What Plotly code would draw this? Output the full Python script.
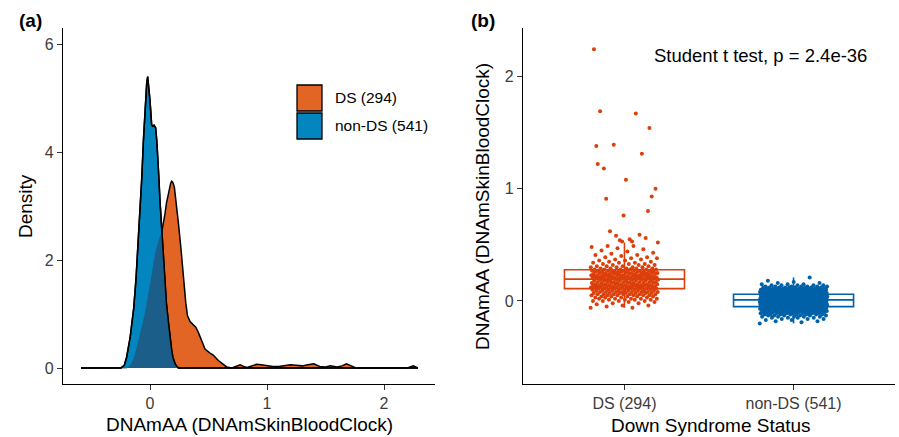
import numpy as np
import plotly.graph_objects as go

# ---------------- data ----------------
# Panel (a): density curves
dens_x = [-0.59, -0.25, -0.22, -0.20, -0.17, -0.14, -0.12, -0.10, -0.085, -0.07,
          -0.057, -0.045, -0.037, -0.028, -0.02, -0.01, 0.0, 0.014, 0.025, 0.034,
          0.048, 0.058, 0.066, 0.075, 0.085, 0.10, 0.108, 0.12, 0.128, 0.14,
          0.157, 0.17, 0.177, 0.185, 0.195, 0.208, 0.214, 0.225, 0.242, 0.265,
          0.285, 0.305, 0.32, 0.342, 0.37, 0.39, 0.413, 0.427, 0.45, 0.47,
          0.51, 0.54, 0.584, 0.62, 0.655, 0.70, 0.74, 0.77, 0.80, 0.83,
          0.87, 0.91, 0.95, 1.00, 1.05, 1.10, 1.15, 1.20, 1.25, 1.30,
          1.35, 1.40, 1.45, 1.50, 1.54, 1.60, 1.64, 1.68, 1.72, 1.76,
          2.20, 2.25, 2.29]
dens_ds = [0, 0, 0.0, 0.01, 0.05, 0.18, 0.33, 0.50, 0.62, 0.75,
           0.88, 1.00, 1.10, 1.22, 1.32, 1.45, 1.57, 1.75, 1.88, 1.98,
           2.17, 2.25, 2.32, 2.38, 2.44, 2.52, 2.60, 2.75, 2.86, 3.05,
           3.26, 3.38, 3.43, 3.46, 3.44, 3.35, 3.25, 3.00, 2.70, 2.20,
           1.69, 1.22, 0.97, 0.86, 0.80, 0.76, 0.66, 0.58, 0.43, 0.35,
           0.28, 0.24, 0.14, 0.07, 0.02, 0.0, 0.03, 0.06, 0.03, 0.01,
           0.04, 0.07, 0.06, 0.04, 0.03, 0.03, 0.04, 0.06, 0.05, 0.04,
           0.06, 0.08, 0.03, 0.02, 0.04, 0.02, 0.04, 0.08, 0.04, 0.0,
           0.0, 0.04, 0.0]
dens_nonds = [0, 0, 0.05, 0.20, 0.57, 1.10, 1.65, 2.35, 2.90, 3.55,
              4.20, 4.70, 5.05, 5.30, 5.40, 5.20, 4.95, 4.50, 4.48, 4.50,
              4.45, 4.20, 3.95, 3.55, 3.10, 2.55, 2.30, 1.85, 1.56, 1.20,
              0.85, 0.58, 0.45, 0.33, 0.20, 0.11, 0.08, 0.04, 0.0, 0.0,
              0, 0, 0, 0, 0, 0, 0, 0, 0, 0,
              0, 0, 0, 0, 0, 0, 0, 0, 0, 0,
              0, 0, 0, 0, 0, 0, 0, 0, 0, 0,
              0, 0, 0, 0, 0, 0, 0, 0, 0, 0,
              0, 0, 0]

# Panel (b): DNAmAA values (value levels and how many samples sit at each)
ds_levels = [-0.06, -0.05, -0.04, -0.03, -0.02, -0.01,
             0.00, 0.01, 0.02, 0.03, 0.04,
             0.05, 0.06, 0.07, 0.08, 0.09,
             0.10,
             0.11, 0.12, 0.13, 0.14,
             0.15, 0.16, 0.17, 0.18, 0.19,
             0.20, 0.21, 0.22, 0.23,
             0.24, 0.25, 0.26, 0.27,
             0.28, 0.29, 0.30, 0.31, 0.32,
             0.33, 0.34, 0.35, 0.36, 0.37, 0.38,
             0.39, 0.40, 0.41, 0.42, 0.43, 0.44, 0.45,
             0.46, 0.47, 0.48, 0.49]
ds_counts = [2, 1, 2, 1, 2, 2,
             4, 4, 5, 4, 5,
             6, 7, 7, 8, 8,
             5,
             8, 9, 9, 10,
             8, 8, 8, 8, 6,
             10, 10, 9, 9,
             9, 9, 9, 8,
             6, 5, 4, 4, 3,
             3, 3, 2, 2, 2, 2,
             2, 1, 2, 1, 1, 1, 1,
             1, 1, 1, 2]
ds_high = [1.54, 0.76, 1.22, 0.59, 1.39, 1.00, 0.55, 1.18, 0.56, 0.54,
           2.24, 1.67, 0.62, 0.93, 1.08, 1.69, 1.31, 0.58, 0.52, 0.53,
           0.91, 0.80, 0.53, 1.38]

nonds_levels = [-0.20, -0.19, -0.18, -0.17, -0.16, -0.15, -0.14, -0.13, -0.12, -0.11,
                -0.10, -0.09, -0.08, -0.07, -0.06, -0.05, -0.04, -0.03, -0.02, -0.01,
                0.00, 0.01, 0.02, 0.03, 0.04, 0.05, 0.06, 0.07, 0.08, 0.09,
                0.10, 0.11, 0.12, 0.13, 0.14, 0.15, 0.16, 0.17, 0.18, 0.21]
nonds_counts = [1, 1, 2, 2, 3, 4, 5, 6, 8, 10,
                12, 14, 16, 17, 18, 19, 22, 24, 28, 28,
                30, 28, 27, 27, 26, 26, 24, 22, 20, 17,
                14, 11, 9, 7, 5, 3, 2, 1, 1, 1]

groups = ["DS (294)", "non-DS (541)"]
density_ticks = [0, 2, 4, 6]
aa_ticks = [0, 1, 2]
pvalue_text = "Student t test, p = 2.4e-36"

# ---------------- styling ----------------
W, H = 899, 437
FONT = "Liberation Sans, Arial, Helvetica, sans-serif"
ORANGE_FILL = "#E36526"
BLUE_FILL = "#0385C0"
OVERLAP_FILL = "#1B5E8A"
ORANGE_PT = "#DC3F0A"
BLUE_PT = "#0061A8"
TICK_COL = "#3C3C3C"


def px(x):
    return x / W


def py(y):
    return 1 - y / H


ds_vals = np.concatenate([np.repeat(ds_levels, ds_counts), ds_high])
nonds_vals = np.repeat(nonds_levels, nonds_counts)

fig = go.Figure()

# ---- panel (a): densities ----
fig.add_trace(go.Scatter(x=dens_x, y=dens_ds, mode="lines", fill="tozeroy",
                         fillcolor=ORANGE_FILL, line=dict(color="black", width=1.5),
                         showlegend=False, xaxis="x", yaxis="y", hoverinfo="skip"))
fig.add_trace(go.Scatter(x=dens_x, y=dens_nonds, mode="lines", fill="tozeroy",
                         fillcolor=BLUE_FILL, line=dict(color="black", width=1.5),
                         showlegend=False, xaxis="x", yaxis="y", hoverinfo="skip"))
overlap = np.minimum(np.array(dens_ds), np.array(dens_nonds))
fig.add_trace(go.Scatter(x=dens_x, y=overlap, mode="lines", fill="tozeroy",
                         fillcolor=OVERLAP_FILL, line=dict(color=OVERLAP_FILL, width=0),
                         showlegend=False, xaxis="x", yaxis="y", hoverinfo="skip"))
fig.add_trace(go.Scatter(x=dens_x, y=dens_nonds, mode="lines",
                         line=dict(color="black", width=1.5),
                         showlegend=False, xaxis="x", yaxis="y", hoverinfo="skip"))

# ---- panel (b): boxes + jittered points ----
for pos, vals, col in [(0, ds_vals, ORANGE_PT), (1, nonds_vals, BLUE_PT)]:
    q1, med, q3 = np.percentile(vals, [25, 50, 75])
    iqr = q3 - q1
    lf = vals[vals >= q1 - 1.5 * iqr].min()
    uf = vals[vals <= q3 + 1.5 * iqr].max()
    fig.add_trace(go.Box(x=[pos], q1=[q1], median=[med], q3=[q3],
                         lowerfence=[lf], upperfence=[uf], width=0.71,
                         fillcolor="white", line=dict(color=col, width=1.6),
                         whiskerwidth=0, boxpoints=False, showlegend=False,
                         xaxis="x2", yaxis="y2", hoverinfo="skip"))
    n = len(vals)
    jit = ((np.arange(n) * 0.6180339887498949) % 1.0 - 0.5) * 0.40
    fig.add_trace(go.Scatter(x=pos + jit, y=vals, mode="markers",
                             marker=dict(size=4.0, color=col, line=dict(width=0)),
                             showlegend=False, xaxis="x2", yaxis="y2",
                             hoverinfo="y"))

axis_common = dict(showline=True, linecolor="black", linewidth=1.2, ticks="outside",
                   ticklen=5, tickwidth=1, tickcolor="#333333", showgrid=False,
                   zeroline=False, tickfont=dict(family=FONT, size=16, color=TICK_COL))

fig.update_layout(
    width=W, height=H, margin=dict(l=0, r=0, t=0, b=0),
    paper_bgcolor="white", plot_bgcolor="white", showlegend=False,
    font=dict(family=FONT, color="black"),
    xaxis=dict(domain=[px(63), px(435)], range=[-0.744, 2.436],
               tickvals=aa_ticks, anchor="y", **axis_common),
    yaxis=dict(domain=[py(384), py(28)], range=[-0.296, 6.30],
               tickvals=density_ticks, anchor="x", **axis_common),
    xaxis2=dict(domain=[px(523), px(895)], range=[-0.6, 1.6],
                tickvals=[0, 1], ticktext=groups, anchor="y2", **axis_common),
    yaxis2=dict(domain=[py(384), py(28)], range=[-0.739, 2.43],
                tickvals=aa_ticks, anchor="x2", **axis_common),
)

ann = []
ann.append(dict(text="<b>(a)</b>", x=px(30), y=py(21), font=dict(size=19)))
ann.append(dict(text="<b>(b)</b>", x=px(483), y=py(21), font=dict(size=19)))
ann.append(dict(text="Density", x=px(25), y=py(206), textangle=-90, font=dict(size=19)))
ann.append(dict(text="DNAmAA (DNAmSkinBloodClock)", x=px(249), y=py(424), font=dict(size=19)))
ann.append(dict(text="DNAmAA (DNAmSkinBloodClock)", x=px(483), y=py(207), textangle=-90,
                font=dict(size=19)))
ann.append(dict(text="Down Syndrome Status", x=px(711), y=py(425), font=dict(size=19)))
ann.append(dict(text=pvalue_text, x=px(760), y=py(55), font=dict(size=18.5)))
# legend texts
ann.append(dict(text=groups[0], x=px(333), y=py(98), xanchor="left", font=dict(size=15.5)))
ann.append(dict(text=groups[1], x=px(333), y=py(126), xanchor="left", font=dict(size=15.5)))
for a in ann:
    a.setdefault("xanchor", "center")
    a.update(xref="paper", yref="paper", showarrow=False, yanchor="middle")
    a["font"] = dict(family=FONT, color="black", size=a["font"]["size"])
fig.update_layout(annotations=ann)

# legend swatches
shapes = [
    dict(type="rect", xref="paper", yref="paper", x0=px(297), x1=px(322), y0=py(111), y1=py(85),
         fillcolor=ORANGE_FILL, line=dict(color="black", width=1.3)),
    dict(type="rect", xref="paper", yref="paper", x0=px(297), x1=px(322), y0=py(139), y1=py(113),
         fillcolor=BLUE_FILL, line=dict(color="black", width=1.3)),
]
fig.update_layout(shapes=shapes)

fig.write_html("out.html", config={"displayModeBar": False},
               post_script="document.body.style.margin='0';document.body.style.padding='0';")
